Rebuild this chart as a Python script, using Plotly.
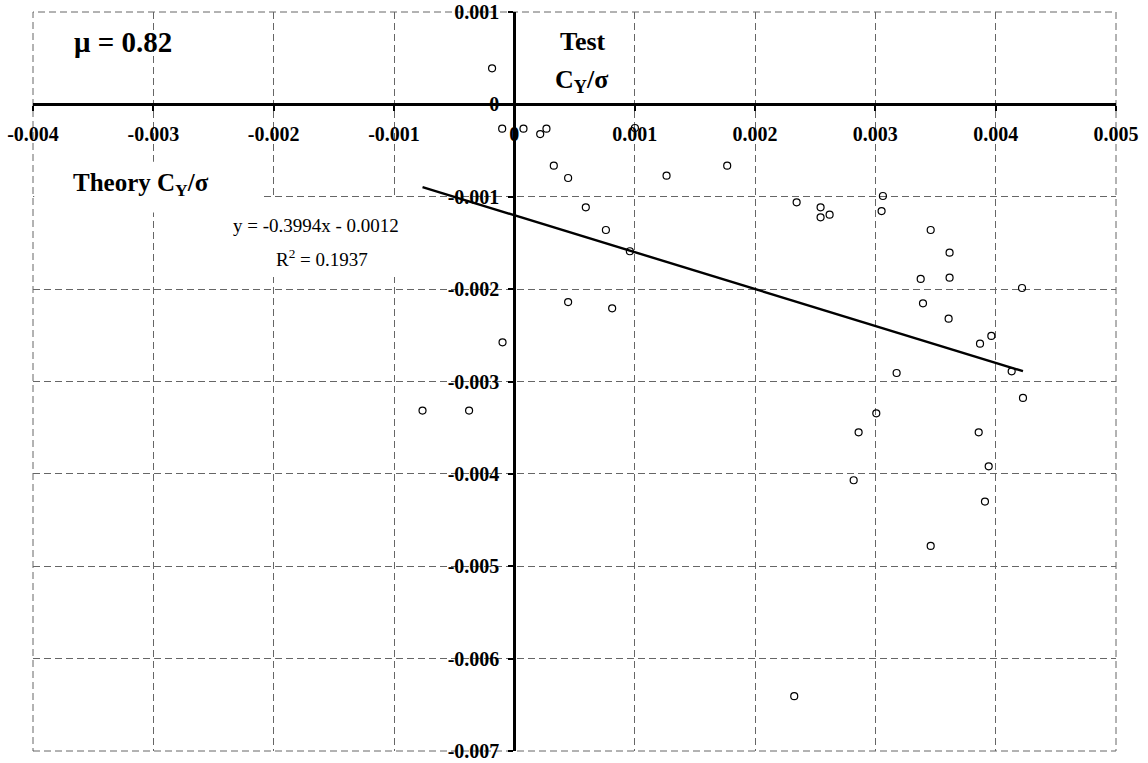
import numpy as np
import plotly.graph_objects as go

# Data (Theory CY/sigma on x, Test CY/sigma on y)
theory_x = [-0.000185, -0.000101, 0.000076, 0.000215, 0.000267, 0.000328, 0.000447,
            0.000594, 0.000761, 0.000960, 0.001002, 0.001265, 0.001769, 0.002346,
            0.002545, 0.002545, 0.002620, 0.003063, 0.003052, 0.003460, 0.003617,
            0.003377, 0.003617, 0.004219, 0.003396, 0.003609, 0.003964, 0.003870,
            0.004133, 0.003177, 0.004227, 0.003008, 0.002861, 0.003859, 0.003942,
            0.002820, 0.003911, 0.003460, 0.000447, 0.000813, -0.000098, -0.000763,
            -0.000376, 0.002326]
test_y = [0.000390, -0.000263, -0.000263, -0.000321, -0.000263, -0.000664, -0.000797,
          -0.001115, -0.001360, -0.001590, -0.000256, -0.000772, -0.000664, -0.001060,
          -0.001115, -0.001223, -0.001194, -0.000992, -0.001155, -0.001360, -0.001605,
          -0.001890, -0.001876, -0.001988, -0.002154, -0.002320, -0.002507, -0.002590,
          -0.002890, -0.002908, -0.003178, -0.003344, -0.003550, -0.003550, -0.003918,
          -0.004069, -0.004300, -0.004780, -0.002140, -0.002208, -0.002576, -0.003315,
          -0.003315, -0.006407]

trend_slope = -0.3994
trend_intercept = -0.0012
r_squared = 0.1937
mu_value = 0.82

x_ticks = [-0.004, -0.003, -0.002, -0.001, 0.0, 0.001, 0.002, 0.003, 0.004, 0.005]
x_tick_labels = ["-0.004", "-0.003", "-0.002", "-0.001", "0", "0.001", "0.002",
                 "0.003", "0.004", "0.005"]
y_ticks = [0.001, 0.0, -0.001, -0.002, -0.003, -0.004, -0.005, -0.006, -0.007]
y_tick_labels = ["0.001", "0", "-0.001", "-0.002", "-0.003", "-0.004", "-0.005",
                 "-0.006", "-0.007"]

x_range = [-0.004, 0.005]
y_range = [-0.007, 0.001]

FONT = "Liberation Serif"

tx = np.array([min(theory_x), max(theory_x)])
ty = trend_slope * tx + trend_intercept

fig = go.Figure()
fig.add_trace(go.Scatter(
    x=theory_x, y=test_y, mode="markers",
    marker=dict(symbol="circle-open", size=7, color="black", line=dict(width=1.2, color="black")),
    showlegend=False, hoverinfo="skip"))
fig.add_trace(go.Scatter(
    x=tx, y=ty, mode="lines", line=dict(color="black", width=2.4),
    showlegend=False, hoverinfo="skip"))

x_pos = (0 - y_range[0]) / (y_range[1] - y_range[0])
y_pos = (0 - x_range[0]) / (x_range[1] - x_range[0])

grid_common = dict(showgrid=True, gridcolor="#666666", gridwidth=1, griddash="7px,4px",
                   zeroline=False, showline=True, linecolor="black", linewidth=3,
                   ticks="outside", ticklen=5, tickwidth=2, tickcolor="black",
                   automargin=False,
                   tickfont=dict(family=FONT, size=20, color="black", weight="bold"))

fig.update_layout(
    width=1148, height=763,
    margin=dict(l=33, r=32, t=12, b=12),
    paper_bgcolor="white", plot_bgcolor="white",
    xaxis=dict(range=x_range, tickvals=x_ticks, ticktext=x_tick_labels,
               anchor="free", position=x_pos, ticklabelstandoff=6, **grid_common),
    yaxis=dict(range=y_range, tickvals=y_ticks, ticktext=y_tick_labels,
               anchor="free", position=y_pos, ticklabelstandoff=5, **grid_common),
)

# dashed outer border (grid lines at the range edges)
fig.add_shape(type="rect", layer="between", xref="paper", yref="paper",
              x0=0, x1=1, y0=0, y1=1,
              line=dict(color="#666666", width=1, dash="7px,4px"))

# white boxes behind labels (hide gridlines)
fig.add_shape(type="rect", layer="between", x0=-0.00399, x1=-0.00209, y0=-0.00117, y1=-0.00062,
              fillcolor="white", line=dict(width=0))
fig.add_shape(type="rect", layer="between", x0=-0.00241, x1=-0.00087, y0=-0.00187, y1=-0.00102,
              fillcolor="white", line=dict(width=0))

ann_font_b = dict(family=FONT, color="black")
fig.add_annotation(x=-0.00325, y=0.00067, text=f"<b>μ = {mu_value}</b>", showarrow=False,
                   font=dict(size=29, **ann_font_b))
fig.add_annotation(x=0.00057, y=0.00068, text="<b>Test</b>", showarrow=False,
                   font=dict(size=26, **ann_font_b))
fig.add_annotation(x=0.00056, y=0.00025, text="<b>C<sub>Y</sub>/σ</b>", showarrow=False,
                   font=dict(size=26, **ann_font_b))
fig.add_annotation(x=-0.00310, y=-0.00087, text="<b>Theory C<sub>Y</sub>/σ</b>", showarrow=False,
                   font=dict(size=25, **ann_font_b))
fig.add_annotation(x=-0.00165, y=-0.00131,
                   text=f"y = {trend_slope}x - {abs(trend_intercept)}", showarrow=False,
                   font=dict(size=19, **ann_font_b))
fig.add_annotation(x=-0.00160, y=-0.00166,
                   text=f"R<sup>2</sup> = {r_squared}", showarrow=False,
                   font=dict(size=19, **ann_font_b))

fig.write_html("out.html", config={"displayModeBar": False},
               post_script="document.body.style.margin='0';")
